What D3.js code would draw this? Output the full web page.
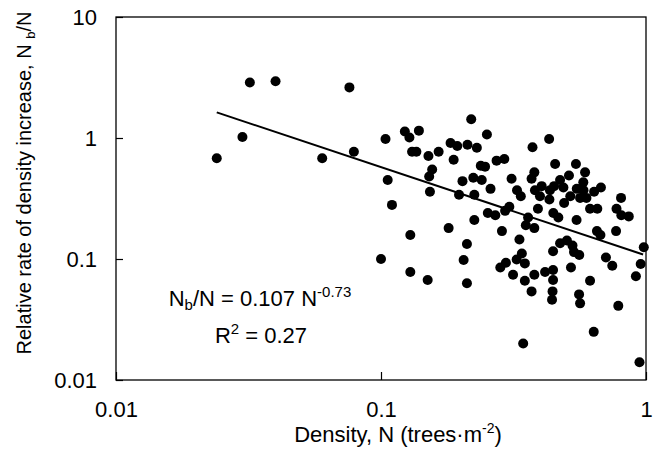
<!DOCTYPE html>
<html>
<head>
<meta charset="utf-8">
<script src="https://cdn.jsdelivr.net/npm/d3@7"></script>
<style>
  body { margin: 0; background: #fff; }
  svg { font-family: Arial, "Liberation Sans", sans-serif; }
</style>
</head>
<body>
<svg id="chart" width="661" height="471"></svg>
<script>
// density N (trees/m2) and relative rate Nb/N
const density = [
  0.024, 0.030, 0.032, 0.040, 0.060, 0.076, 0.079, 0.100, 0.104, 0.106,
  0.110, 0.123, 0.128, 0.129, 0.129, 0.131, 0.136, 0.139, 0.150, 0.151,
  0.152, 0.153, 0.156, 0.165, 0.180, 0.183, 0.188, 0.194, 0.197, 0.203,
  0.205, 0.211, 0.211, 0.212, 0.219, 0.225, 0.225, 0.223, 0.230, 0.238,
  0.247, 0.240, 0.251, 0.253, 0.259, 0.270, 0.273, 0.282, 0.286, 0.292,
  0.294, 0.296, 0.305, 0.311, 0.315, 0.325, 0.326, 0.333, 0.337, 0.340,
  0.344, 0.349, 0.349, 0.352, 0.359, 0.370, 0.370, 0.373, 0.379, 0.379,
  0.379, 0.381, 0.391, 0.398, 0.404, 0.416, 0.431, 0.432, 0.434, 0.450,
  0.442, 0.444, 0.446, 0.446, 0.446, 0.447, 0.454, 0.467, 0.474, 0.474,
  0.488, 0.491, 0.503, 0.512, 0.518, 0.521, 0.528, 0.535, 0.544, 0.548,
  0.547, 0.560, 0.559, 0.564, 0.564, 0.580, 0.581, 0.589, 0.596, 0.615,
  0.615, 0.635, 0.637, 0.655, 0.653, 0.673, 0.676, 0.706, 0.746, 0.774,
  0.771, 0.786, 0.805, 0.807, 0.861, 0.916, 0.945, 0.955, 0.981
];
const rate = [
  0.68, 1.02, 2.88, 2.94, 0.68, 2.62, 0.77, 0.100, 0.98, 0.45,
  0.28, 1.13, 1.01, 0.158, 0.078, 0.77, 0.77, 1.15, 0.067, 0.71,
  0.48, 0.36, 0.55, 0.77, 0.18, 0.91, 0.66, 0.86, 0.34, 0.44,
  0.098, 0.133, 0.063, 0.88, 1.43, 0.34, 0.21, 0.47, 0.83, 0.59,
  0.58, 0.45, 1.07, 0.24, 0.38, 0.23, 0.65, 0.085, 0.17, 0.67,
  0.25, 0.093, 0.27, 0.46, 0.074, 0.099, 0.37, 0.145, 0.33, 0.111,
  0.020, 0.092, 0.066, 0.19, 0.22, 0.46, 0.054, 0.84, 0.52, 0.18,
  0.074, 0.37, 0.26, 0.33, 0.40, 0.078, 0.98, 0.31, 0.37, 0.40,
  0.046, 0.054, 0.081, 0.067, 0.116, 0.24, 0.61, 0.22, 0.45, 0.135,
  0.39, 0.29, 0.142, 0.49, 0.33, 0.085, 0.129, 0.114, 0.61, 0.38,
  0.21, 0.108, 0.051, 0.043, 0.32, 0.43, 0.37, 0.52, 0.32, 0.26,
  0.066, 0.025, 0.36, 0.26, 0.17, 0.158, 0.39, 0.103, 0.088, 0.26,
  0.17, 0.041, 0.32, 0.23, 0.225, 0.072, 0.014, 0.091, 0.125
];

// power fit Nb/N = a * N^b
const fitA = 0.107;
const fitB = -0.73;
const fitRange = [0.024, 0.975];

const xTicks = [0.01, 0.1, 1];
const xTickLabels = ["0.01", "0.1", "1"];
const yTicks = [0.01, 0.1, 1, 10];
const yTickLabels = ["0.01", "0.1", "1", "10"];

const margin = { left: 116, right: 15, top: 17, bottom: 91 };
const svg = d3.select('#chart');
const width = +svg.attr('width') - margin.left - margin.right;
const height = +svg.attr('height') - margin.top - margin.bottom;

const x = d3.scaleLog().domain([0.01, 1]).range([0, width]);
const y = d3.scaleLog().domain([0.01, 10]).range([height, 0]);

const g = svg.append('g').attr('transform', `translate(${margin.left},${margin.top})`);

// axes with inward ticks
const xAxis = d3.axisBottom(x)
    .tickValues(xTicks)
    .tickFormat((d, i) => xTickLabels[i])
    .tickSizeInner(-8).tickSizeOuter(0).tickPadding(21);
const yAxis = d3.axisLeft(y)
    .tickValues(yTicks)
    .tickFormat((d, i) => yTickLabels[i])
    .tickSizeInner(-7).tickSizeOuter(0).tickPadding(19);

const gx = g.append('g').attr('transform', `translate(0,${height})`).call(xAxis);
const gy = g.append('g').call(yAxis);
[gx, gy].forEach(a => {
    a.select('.domain').remove();
    a.selectAll('line').attr('stroke', '#000').attr('stroke-width', 1.2);
    a.selectAll('text').attr('font-size', 22).attr('fill', '#000')
        .attr('font-family', 'Arial, "Liberation Sans", sans-serif');
});

// frame
g.append('rect')
    .attr('width', width).attr('height', height)
    .attr('fill', 'none').attr('stroke', '#000').attr('stroke-width', 1.3);

// points
const pts = density.map((d, i) => ({ n: d, r: rate[i] }));
g.selectAll('circle').data(pts).enter()
    .append('circle')
    .attr('cx', d => x(d.n))
    .attr('cy', d => y(d.r))
    .attr('r', 5)
    .attr('fill', '#000');

// fitted line
const fitPts = fitRange.map(n => ({ n: n, r: fitA * Math.pow(n, fitB) }));
g.append('path')
    .datum(fitPts)
    .attr('fill', 'none')
    .attr('stroke', '#000')
    .attr('stroke-width', 2)
    .attr('d', d3.line().x(d => x(d.n)).y(d => y(d.r)));

// equation
const eq = svg.append('text')
    .attr('x', 260).attr('y', 306)
    .attr('text-anchor', 'middle').attr('font-size', 22);
eq.append('tspan').text('N');
eq.append('tspan').attr('font-size', 15).attr('dy', 4).text('b');
eq.append('tspan').attr('dy', -4).text('/N = 0.107 N');
eq.append('tspan').attr('font-size', 15).attr('dy', -9).text('-0.73');

const r2 = svg.append('text')
    .attr('x', 261).attr('y', 343)
    .attr('text-anchor', 'middle').attr('font-size', 22);
r2.append('tspan').text('R');
r2.append('tspan').attr('font-size', 15).attr('dy', -9).text('2');
r2.append('tspan').attr('dy', 9).text(' = 0.27');

// axis titles
const xt = svg.append('text')
    .attr('x', 398).attr('y', 442)
    .attr('text-anchor', 'middle').attr('font-size', 22);
xt.append('tspan').text('Density, N (trees\u00b7m');
xt.append('tspan').attr('font-size', 14).attr('dy', -9).text('-2');
xt.append('tspan').attr('dy', 9).text(')');

const yt = svg.append('text')
    .attr('transform', 'translate(31,183) rotate(-90)')
    .attr('text-anchor', 'middle').attr('font-size', 20);
yt.append('tspan').text('Relative rate of density increase, N ');
yt.append('tspan').attr('font-size', 13).attr('dy', 4).text('b');
yt.append('tspan').attr('dy', -4).text('/N');
</script>
</body>
</html>
